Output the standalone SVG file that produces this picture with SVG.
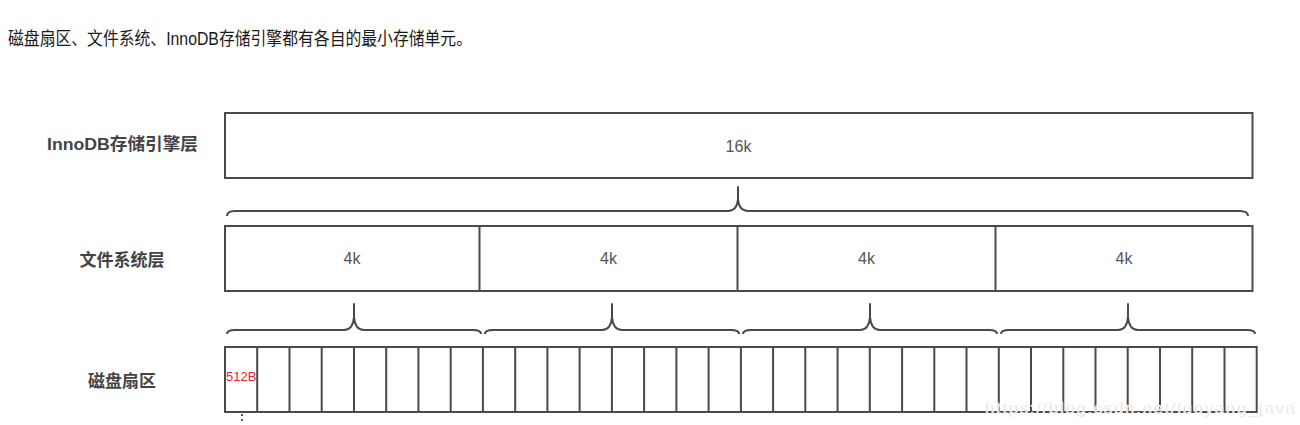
<svg xmlns="http://www.w3.org/2000/svg" width="1300" height="425" viewBox="0 0 1300 425">
<style>
.box{fill:#fff;stroke:#4a4a4a;stroke-width:2}
.div{stroke:#4a4a4a;stroke-width:2}
.brace{fill:none;stroke:#4a4a4a;stroke-width:2;stroke-linejoin:round}
.lbl{font-family:"Liberation Sans","Noto Sans CJK SC",sans-serif;font-size:17px;font-weight:bold;fill:#444;text-anchor:middle}
.val{font-family:"Liberation Sans","Noto Sans CJK SC",sans-serif;font-size:16px;fill:#555;text-anchor:middle}
</style>
<rect width="1300" height="425" fill="#fff"/>
<text x="8" y="44.5" font-family="'Liberation Sans','Noto Sans CJK SC',sans-serif" font-size="18" fill="#1a1a1a" textLength="464" lengthAdjust="spacingAndGlyphs">磁盘扇区、文件系统、InnoDB存储引擎都有各自的最小存储单元。</text>

<g id="label-innodb"><text class="lbl" x="122.5" y="150" textLength="151" lengthAdjust="spacingAndGlyphs">InnoDB存储引擎层</text></g>
<g id="label-fs"><text class="lbl" x="122" y="266">文件系统层</text></g>
<g id="label-disk"><text class="lbl" x="122" y="387">磁盘扇区</text></g>

<g id="innodb-page">
<rect class="box" x="225" y="113" width="1027.5" height="65"/>
<text class="val" x="738.5" y="152">16k</text>
</g>

<g id="fs-blocks">
<rect class="box" x="225" y="226" width="1027.5" height="65"/>
<line class="div" x1="479.5" y1="226" x2="479.5" y2="291"/>
<line class="div" x1="737.5" y1="226" x2="737.5" y2="291"/>
<line class="div" x1="995.5" y1="226" x2="995.5" y2="291"/>
<text class="val" x="352" y="264">4k</text>
<text class="val" x="608.5" y="264">4k</text>
<text class="val" x="866.5" y="264">4k</text>
<text class="val" x="1124" y="264">4k</text>
</g>

<g id="disk-sectors">
<rect class="box" x="225" y="347" width="1031.7" height="65"/>
<path class="div" d="M257.2 347V412M289.5 347V412M321.7 347V412M354 347V412M386.2 347V412M418.4 347V412M450.7 347V412M482.9 347V412M515.2 347V412M547.4 347V412M579.6 347V412M611.9 347V412M644.1 347V412M676.4 347V412M708.6 347V412M740.9 347V412M773.1 347V412M805.3 347V412M837.6 347V412M869.8 347V412M902.1 347V412M934.3 347V412M966.5 347V412M998.8 347V412M1031 347V412M1063.3 347V412M1095.5 347V412M1127.7 347V412M1160 347V412M1192.2 347V412M1224.5 347V412"/>
<text x="226" y="381" font-family="'Liberation Sans',sans-serif" font-size="13" fill="#f0203a">512B</text>
<line x1="242" y1="414" x2="242" y2="422" stroke="#555" stroke-width="2" stroke-dasharray="2 3"/>
</g>

<g id="connectors">
<path class="brace" d="M227 216Q227 211 235 211H728Q737 211 738 199V187V199Q739 211 748 211H1240Q1248 211 1248 216"/>
<path class="brace" d="M227 334Q227 330 235 330H344Q353 330 354 317V304V317Q355 330 364 330H473Q481 330 481 334"/>
<path class="brace" d="M485 334Q485 330 493 330H602Q611 330 612 317V304V317Q613 330 622 330H731Q739 330 739 334"/>
<path class="brace" d="M743 334Q743 330 751 330H860Q869 330 870 317V304V317Q871 330 880 330H989Q997 330 997 334"/>
<path class="brace" d="M1001 334Q1001 330 1009 330H1118Q1127 330 1128 317V304V317Q1129 330 1138 330H1247Q1255 330 1255 334"/>
</g>

<text x="985" y="414" font-family="'Liberation Sans',sans-serif" font-size="17" fill="#d2d2d2" stroke="#fff" stroke-width="0.6" textLength="310">https://blog.csdn.net/luoyang_java</text>
</svg>
